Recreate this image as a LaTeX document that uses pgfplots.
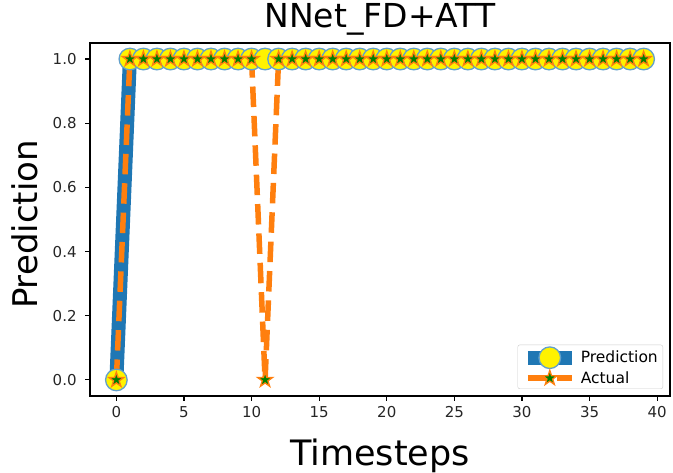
\documentclass[border=0pt]{standalone}
\usepackage{fontspec}
\setmainfont{DejaVu Sans}
\usepackage{pgfplots}
\pgfplotsset{compat=1.18}
\definecolor{mblue}{HTML}{1F77B4}
\definecolor{morange}{HTML}{FF7F0E}
\definecolor{mgreen}{HTML}{008000}
\pgfdeclareplotmark{fstar}{%
  \pgfpathmoveto{\pgfpointpolar{90}{\pgfplotmarksize}}%
  \pgfpathlineto{\pgfpointpolar{126}{0.382\pgfplotmarksize}}%
  \pgfpathlineto{\pgfpointpolar{162}{\pgfplotmarksize}}%
  \pgfpathlineto{\pgfpointpolar{198}{0.382\pgfplotmarksize}}%
  \pgfpathlineto{\pgfpointpolar{234}{\pgfplotmarksize}}%
  \pgfpathlineto{\pgfpointpolar{270}{0.382\pgfplotmarksize}}%
  \pgfpathlineto{\pgfpointpolar{306}{\pgfplotmarksize}}%
  \pgfpathlineto{\pgfpointpolar{342}{0.382\pgfplotmarksize}}%
  \pgfpathlineto{\pgfpointpolar{18}{\pgfplotmarksize}}%
  \pgfpathlineto{\pgfpointpolar{54}{0.382\pgfplotmarksize}}%
  \pgfpathclose
  \pgfusepathqfillstroke
}
\begin{document}
\begin{tikzpicture}
\path[use as bounding box] (0pt,0pt) rectangle (673pt,473pt);
\begin{axis}[
  at={(90pt,77pt)}, anchor=south west,
  scale only axis, width=580pt, height=353pt,
  xmin=-1.95, xmax=40.95, ymin=-0.05, ymax=1.05,
  xtick={0,5,...,40},
  ytick={0,0.2,0.4,0.6,0.8,1.0},
  yticklabel style={/pgf/number format/fixed,/pgf/number format/precision=1,/pgf/number format/fixed zerofill, xshift=-5pt},
  xticklabel style={yshift=-2pt},
  /pgf/number format/assume math mode=true,
  tick label style={font=\fontsize{15}{17}\selectfont, text=black!85},
  xtick pos=bottom, ytick pos=left,
  tick align=outside, major tick length=4.9pt,
  every tick/.style={black, line width=1.1pt},
  axis line style={line width=1.1pt},
  title={NNet\_FD+ATT},
  title style={font=\fontsize{33}{38}\selectfont, at={(axis description cs:0.5,1)}, anchor=base, yshift=9pt},
  xlabel={Timesteps},
  xlabel style={font=\fontsize{35}{40}\selectfont, at={(axis description cs:0.5,0)}, anchor=base, yshift=-70pt},
  ylabel={Prediction},
  ylabel style={font=\fontsize{34}{40}\selectfont, at={([xshift=-52pt,yshift=-5pt]axis description cs:0,0.5)}, anchor=base, rotate=0},
  legend style={at={(1,0)}, anchor=south east, xshift=-7pt, yshift=7pt,
    font=\fontsize{15.5}{18}\selectfont, draw=black!20, rounded corners=2pt,
    fill=white, inner xsep=3pt, inner ysep=2pt, row sep=1pt},
  legend cell align=left,
  legend image code/.code={\draw[mark repeat=2,mark phase=2] plot coordinates {(0pt,0pt) (22pt,0pt) (44pt,0pt)};},
]
\addplot[mblue, line width=14pt, mark=*, mark size=10.8pt,
  mark options={solid, fill=yellow, draw=mblue!70, line width=1.3pt}]
  coordinates {(0,0) (1,1) (2,1) (3,1) (4,1) (5,1) (6,1) (7,1) (8,1) (9,1)
  (10,1) (11,1) (12,1) (13,1) (14,1) (15,1) (16,1) (17,1) (18,1) (19,1)
  (20,1) (21,1) (22,1) (23,1) (24,1) (25,1) (26,1) (27,1) (28,1) (29,1)
  (30,1) (31,1) (32,1) (33,1) (34,1) (35,1) (36,1) (37,1) (38,1) (39,1)};
\addlegendentry{Prediction}
\addplot[morange, line width=5.5pt, dash pattern=on 20.5pt off 8.9pt, mark=fstar, mark size=7.8pt,
  mark options={solid, fill=mgreen, draw=morange, line width=1.3pt}]
  coordinates {(0,0) (1,1) (2,1) (3,1) (4,1) (5,1) (6,1) (7,1) (8,1) (9,1)
  (10,1) (11,0) (12,1) (13,1) (14,1) (15,1) (16,1) (17,1) (18,1) (19,1)
  (20,1) (21,1) (22,1) (23,1) (24,1) (25,1) (26,1) (27,1) (28,1) (29,1)
  (30,1) (31,1) (32,1) (33,1) (34,1) (35,1) (36,1) (37,1) (38,1) (39,1)};
\addlegendentry{Actual}
\end{axis}
\end{tikzpicture}
\end{document}
